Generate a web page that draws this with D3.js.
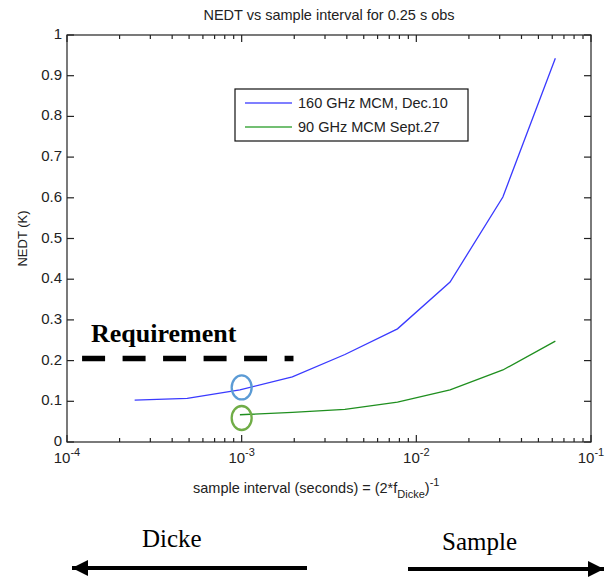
<!DOCTYPE html>
<html>
<head>
<meta charset="utf-8">
<script src="https://cdn.jsdelivr.net/npm/d3@7"></script>
<style>
  body { margin: 0; background: #fff; }
  svg { display: block; }
  text { font-family: "Liberation Sans", Arial, sans-serif; fill: #222; }
  .serif { font-family: "Liberation Serif", "Times New Roman", serif; fill: #000; }
</style>
</head>
<body>
<div id="chart"></div>
<script>
// ---- data ----
const intervals = [0.000244, 0.000488, 0.000977, 0.00195, 0.0039, 0.0078, 0.0156, 0.0313, 0.0625];
const nedt160 = [0.103, 0.107, 0.128, 0.160, 0.215, 0.278, 0.393, 0.602, 0.943];
// 90 GHz curve starts at the 3rd interval
const intervals90 = [0.000977, 0.00195, 0.0039, 0.0078, 0.0156, 0.0313, 0.0625];
const nedt90 = [0.067, 0.073, 0.080, 0.098, 0.128, 0.177, 0.248];
const seriesNames = ["160 GHz MCM, Dec.10", "90 GHz MCM Sept.27"];
const requirementX = [0.000122, 0.00198];
const requirementY = 0.205;
const marks = [{ x: 0.001, y: 0.134, color: "#5b9bd5" }, { x: 0.001, y: 0.059, color: "#70ad47" }];
const xDecades = [-4, -3, -2, -1];
const yTicks = [0, 0.1, 0.2, 0.3, 0.4, 0.5, 0.6, 0.7, 0.8, 0.9, 1];

// ---- svg ----
const width = 607, height = 579;
const margin = { top: 35, right: 16, bottom: 137, left: 67 };

const svg = d3.select("#chart").append("svg")
  .attr("width", width)
  .attr("height", height);

const x = d3.scaleLog().domain([1e-4, 1e-1]).range([margin.left, width - margin.right]);
const y = d3.scaleLinear().domain([0, 1]).range([height - margin.bottom, margin.top]);

const x0 = x.range()[0], x1 = x.range()[1], y0 = y.range()[0], y1 = y.range()[1];

// minor + major log ticks (inward, bottom and top)
const minorTicks = [];
xDecades.slice(0, -1).forEach(e => {
  for (let k = 2; k <= 9; k++) minorTicks.push(k * Math.pow(10, e));
});
const majorTicks = xDecades.map(e => Math.pow(10, e));

const axisG = svg.append("g").attr("stroke", "#222").attr("stroke-width", 1.2);
[[y0, -1], [y1, 1]].forEach(([yy, dir]) => {
  axisG.selectAll(null).data(minorTicks).enter().append("line")
    .attr("x1", d => x(d)).attr("x2", d => x(d))
    .attr("y1", yy).attr("y2", yy + dir * 4);
  axisG.selectAll(null).data(majorTicks).enter().append("line")
    .attr("x1", d => x(d)).attr("x2", d => x(d))
    .attr("y1", yy).attr("y2", yy + dir * 7);
});
[[x0, 1], [x1, -1]].forEach(([xx, dir]) => {
  axisG.selectAll(null).data(yTicks).enter().append("line")
    .attr("x1", xx).attr("x2", xx + dir * 7)
    .attr("y1", d => y(d)).attr("y2", d => y(d));
});
axisG.append("rect")
  .attr("x", x0).attr("y", y1)
  .attr("width", x1 - x0).attr("height", y0 - y1)
  .attr("fill", "none");

// tick labels
svg.selectAll(".ytl").data(yTicks).enter().append("text")
  .attr("class", "ytl")
  .attr("x", x0 - 5).attr("y", d => y(d) + 4)
  .attr("text-anchor", "end")
  .style("font-size", "15px")
  .text(d => d3.format("~g")(d));

const xtl = svg.selectAll(".xtl").data(xDecades).enter().append("text")
  .attr("class", "xtl")
  .attr("x", d => x(Math.pow(10, d)))
  .attr("y", y0 + 21)
  .attr("text-anchor", "middle")
  .style("font-size", "15px");
xtl.append("tspan").text("10");
xtl.append("tspan").attr("dy", -7).style("font-size", "11px").text(d => d);

// lines
const line = d3.line().x(d => x(d[0])).y(d => y(d[1]));
svg.append("path")
  .datum(d3.zip(intervals, nedt160))
  .attr("d", line).attr("fill", "none")
  .attr("stroke", "#3a3aff").attr("stroke-width", 1.3);
svg.append("path")
  .datum(d3.zip(intervals90, nedt90))
  .attr("d", line).attr("fill", "none")
  .attr("stroke", "#1f8f1f").attr("stroke-width", 1.3);

// requirement
svg.append("line")
  .attr("x1", x(requirementX[0])).attr("x2", x(requirementX[1]))
  .attr("y1", y(requirementY)).attr("y2", y(requirementY))
  .attr("stroke", "#000").attr("stroke-width", 5.5)
  .attr("stroke-dasharray", "23 17.5");
svg.append("text")
  .attr("class", "serif")
  .attr("x", 91).attr("y", y(requirementY) - 17)
  .style("font-size", "26px").style("font-weight", "bold")
  .text("Requirement");

// ellipses
svg.selectAll(".mark").data(marks).enter().append("ellipse")
  .attr("cx", d => x(d.x)).attr("cy", d => y(d.y))
  .attr("rx", 10).attr("ry", 12)
  .attr("fill", "none").attr("stroke", d => d.color).attr("stroke-width", 2.3);

// legend
const legend = svg.append("g");
legend.append("rect")
  .attr("x", 235).attr("y", 89).attr("width", 233).attr("height", 52)
  .attr("fill", "#fff").attr("stroke", "#111").attr("stroke-width", 1.2);
const legendColors = ["#5555ff", "#44aa44"];
seriesNames.forEach((name, i) => {
  legend.append("line")
    .attr("x1", 245).attr("x2", 292)
    .attr("y1", 103 + i * 24).attr("y2", 103 + i * 24)
    .attr("stroke", legendColors[i]).attr("stroke-width", 1.3);
  legend.append("text")
    .attr("x", 298).attr("y", 108 + i * 24)
    .style("font-size", "14.5px")
    .text(name);
});

// titles
svg.append("text")
  .attr("x", (x0 + x1) / 2).attr("y", 20)
  .attr("text-anchor", "middle")
  .style("font-size", "14.5px")
  .text("NEDT vs sample interval for 0.25 s obs");

svg.append("text")
  .attr("transform", `translate(27, ${(y0 + y1) / 2}) rotate(-90)`)
  .attr("text-anchor", "middle")
  .style("font-size", "13px")
  .text("NEDT (K)");

const xl = svg.append("text")
  .attr("x", 193).attr("y", 493)
  .style("font-size", "14.5px");
xl.append("tspan").text("sample interval (seconds) = (2*f");
xl.append("tspan").attr("dy", 5).style("font-size", "11px").text("Dicke");
xl.append("tspan").attr("dy", -5).text(")");
xl.append("tspan").attr("dy", -7).style("font-size", "11px").text("-1");

// Dicke / Sample arrows
const defs = svg.append("defs");
defs.append("marker")
  .attr("id", "head")
  .attr("viewBox", "0 0 10 10")
  .attr("refX", 10).attr("refY", 5)
  .attr("markerWidth", 4).attr("markerHeight", 4)
  .attr("markerUnits", "strokeWidth")
  .attr("orient", "auto")
  .append("path").attr("d", "M0,0 L10,5 L0,10 Z").attr("fill", "#000");

svg.append("line")
  .attr("x1", 307).attr("y1", 568).attr("x2", 72).attr("y2", 568)
  .attr("stroke", "#000").attr("stroke-width", 4)
  .attr("marker-end", "url(#head)");
svg.append("line")
  .attr("x1", 408).attr("y1", 569).attr("x2", 604).attr("y2", 569)
  .attr("stroke", "#000").attr("stroke-width", 4)
  .attr("marker-end", "url(#head)");

svg.append("text").attr("class", "serif")
  .attr("x", 142).attr("y", 547)
  .style("font-size", "25px").text("Dicke");
svg.append("text").attr("class", "serif")
  .attr("x", 442).attr("y", 550)
  .style("font-size", "25px").text("Sample");
</script>
</body>
</html>
